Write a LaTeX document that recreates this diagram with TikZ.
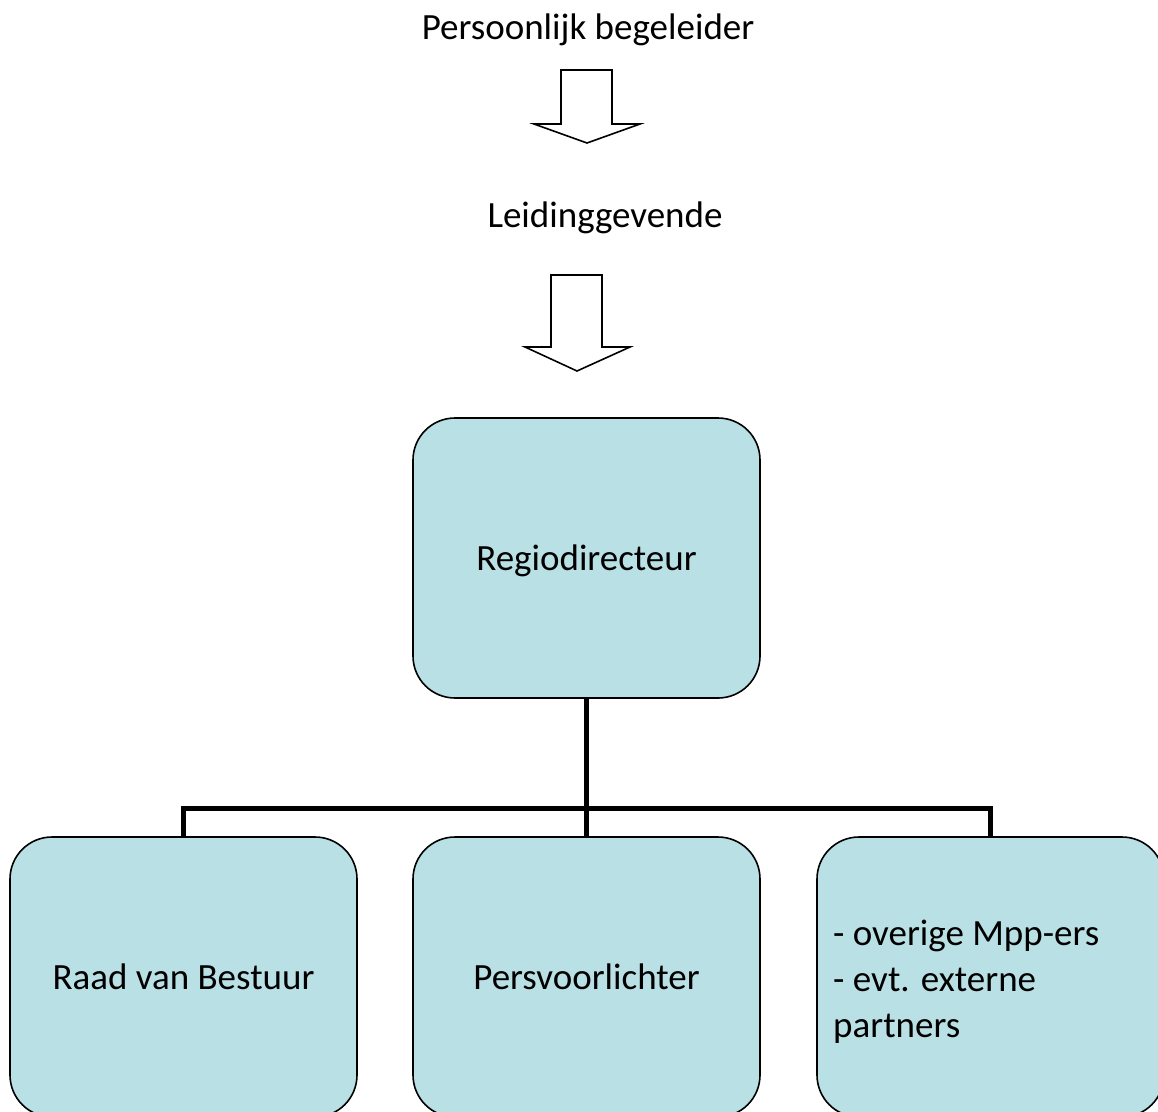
\documentclass[tikz,border=0pt]{standalone}
\usepackage{fontspec}
\setmainfont{Carlito}
\definecolor{boxfill}{RGB}{185,224,228}
\begin{document}
\begin{tikzpicture}[x=1pt,y=-1pt,
  lbl/.style={font=\fontsize{37}{46}\selectfont, inner sep=0pt},
  orgbox/.style={draw=black, line width=1.6pt, fill=boxfill, rounded corners=42pt,
    minimum width=347pt, minimum height=280pt, inner sep=0pt,
    font=\fontsize{37}{46}\selectfont},
  blockarrow/.style={draw=black, line width=1.6pt, fill=white, line join=miter},
  link/.style={draw=black, line width=5pt, line join=miter}]
\clip (0,0) rectangle (1158,1111);
\useasboundingbox (0,0) rectangle (1158,1111);
\fill[white] (0,0) rectangle (1158,1111);

\node[lbl] (pb) at (588,30) {Persoonlijk begeleider};
\node[lbl] (lg) at (605,218) {Leidinggevende};

% block arrows
\draw[blockarrow] (561,70) -- (612,70) -- (612,124) -- (640,124) -- (587,143) -- (534,124) -- (561,124) -- cycle;
\draw[blockarrow] (551,275) -- (602,275) -- (602,347) -- (630,347) -- (577,371) -- (525,347) -- (551,347) -- cycle;

\node[orgbox, text depth=0pt] (reg) at (586.5,558) {Regiodirecteur};
\node[orgbox] (raad) at (183.5,977) {Raad van Bestuur};
\node[orgbox] (pers) at (586.5,977) {Persvoorlichter};
\node[orgbox] (rest) at (990.5,977) {};
\node[lbl, align=flush left, anchor=west] (resttxt) at (833,982)
  {- overige Mpp-ers\\- evt. externe\\partners};

\coordinate (bus) at (586.5,808);
\draw[link] (reg.south) -- (pers.north);
\draw[link] (raad.north) |- (bus) -| (rest.north);
\end{tikzpicture}
\end{document}
